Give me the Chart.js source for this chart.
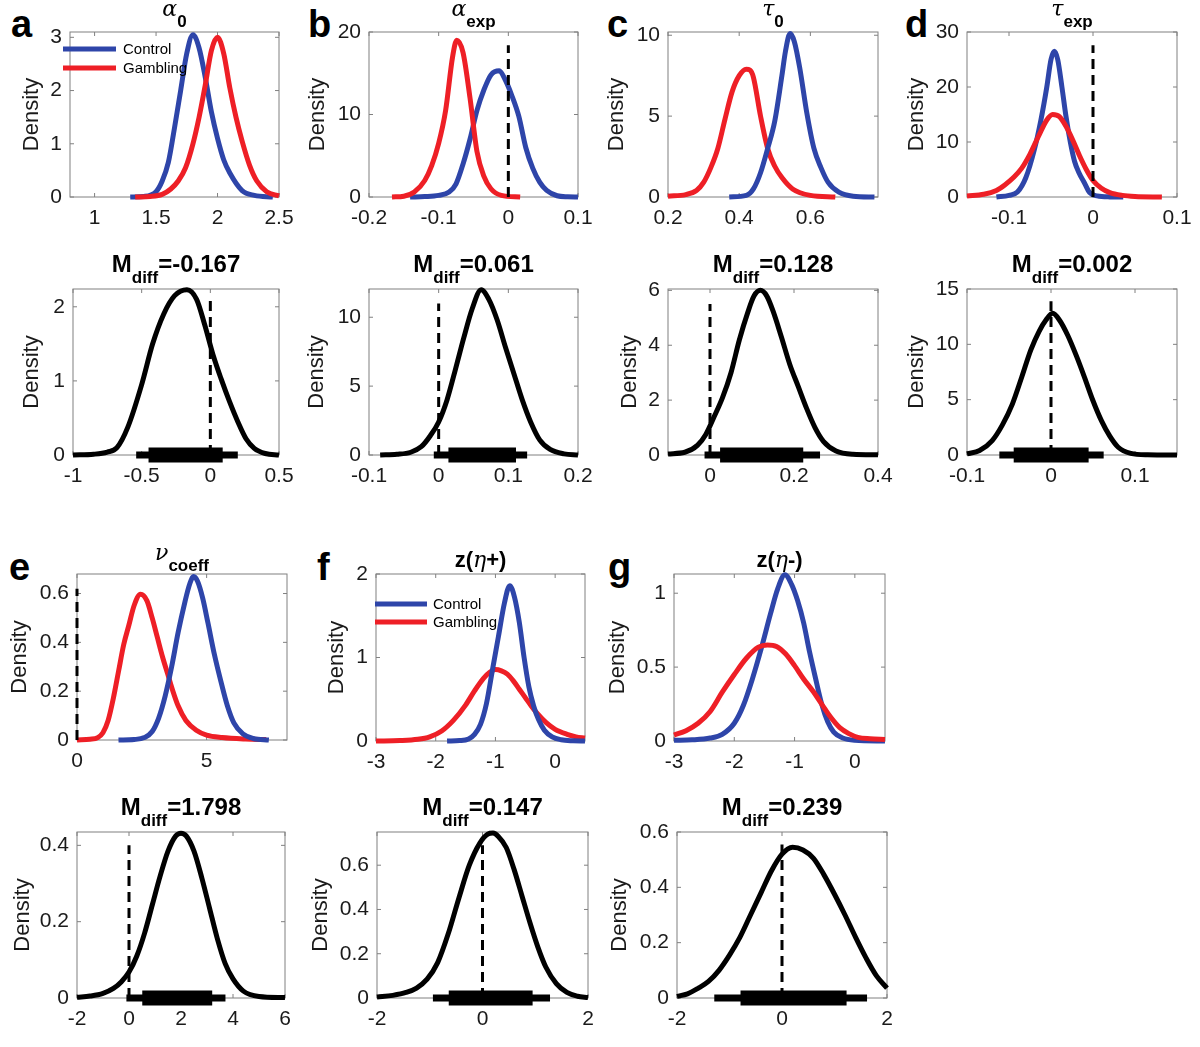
<!DOCTYPE html>
<html>
<head>
<meta charset="utf-8">
<script src="https://cdn.jsdelivr.net/npm/chart.js@4.4.1/dist/chart.umd.min.js"></script>
<style>
  body { margin: 0; background: #fff; width: 1200px; height: 1047px; position: relative; overflow: hidden; }
  canvas { position: absolute; }
  .letter { position: absolute; font: bold 38px "Liberation Sans", Arial, sans-serif; line-height: 1; color: #000; }
</style>
</head>
<body>
<div class="letter" style="left:11px;top:5px">a</div>
<div class="letter" style="left:308px;top:5px">b</div>
<div class="letter" style="left:607px;top:5px">c</div>
<div class="letter" style="left:905px;top:5px">d</div>
<div class="letter" style="left:9px;top:548px">e</div>
<div class="letter" style="left:317px;top:548px">f</div>
<div class="letter" style="left:608px;top:548px">g</div>
<script>
// ---- values ----
// a: alpha_0
const aCtrlX = [1.29, 1.40, 1.50, 1.55, 1.60, 1.65, 1.70, 1.75, 1.80, 1.85, 1.90, 1.95, 2.00, 2.05, 2.10, 2.20, 2.30, 2.45];
const aCtrlY = [0, 0.01, 0.1, 0.3, 0.65, 1.3, 2.0, 2.7, 3.05, 2.8, 2.25, 1.6, 1.1, 0.7, 0.45, 0.12, 0.03, 0];
const aGambX = [1.33, 1.45, 1.55, 1.62, 1.68, 1.74, 1.80, 1.85, 1.90, 1.95, 2.00, 2.05, 2.10, 2.15, 2.20, 2.26, 2.32, 2.40, 2.50];
const aGambY = [0, 0.01, 0.05, 0.15, 0.3, 0.55, 1.0, 1.5, 2.1, 2.75, 3.0, 2.7, 2.05, 1.5, 1.05, 0.6, 0.3, 0.1, 0.02];
const aDiffX = [-1, -0.85, -0.75, -0.68, -0.6, -0.5, -0.42, -0.34, -0.26, -0.17, -0.1, -0.04, 0.02, 0.08, 0.14, 0.2, 0.26, 0.32, 0.4, 0.5];
const aDiffY = [0, 0.01, 0.04, 0.1, 0.38, 0.95, 1.5, 1.9, 2.15, 2.23, 2.1, 1.75, 1.35, 1.02, 0.72, 0.45, 0.22, 0.09, 0.02, 0];
const aHdiOuter = [-0.54, 0.2], aHdiInner = [-0.45, 0.09];

// b: alpha_exp
const bCtrlX = [-0.141, -0.12, -0.1, -0.085, -0.075, -0.065, -0.055, -0.045, -0.035, -0.025, -0.013, -0.005, 0.005, 0.015, 0.025, 0.035, 0.045, 0.055, 0.07, 0.085, 0.1];
const bCtrlY = [0, 0.05, 0.2, 0.6, 1.6, 4.0, 7.0, 10.5, 13.0, 14.8, 15.3, 14.3, 12.3, 9.8, 6.0, 3.5, 1.8, 0.8, 0.15, 0.02, 0];
const bGambX = [-0.167, -0.15, -0.135, -0.12, -0.11, -0.1, -0.09, -0.08, -0.074, -0.065, -0.055, -0.045, -0.035, -0.025, -0.01, 0.017];
const bGambY = [0, 0.1, 0.6, 2.0, 3.8, 6.5, 10.5, 17, 19, 17.5, 12, 5.5, 2.5, 1.0, 0.2, 0];
const bDiffX = [-0.084, -0.06, -0.04, -0.025, -0.012, 0, 0.012, 0.024, 0.036, 0.048, 0.061, 0.072, 0.084, 0.096, 0.108, 0.12, 0.132, 0.145, 0.16, 0.18, 0.2];
const bDiffY = [0, 0.05, 0.2, 0.6, 1.4, 2.4, 4.0, 6.2, 8.5, 10.6, 12, 11.3, 9.8, 7.8, 5.9, 4.0, 2.4, 1.1, 0.4, 0.08, 0];
const bHdiOuter = [-0.007, 0.127], bHdiInner = [0.014, 0.111];

// c: tau_0
const cCtrlX = [0.372, 0.42, 0.44, 0.46, 0.48, 0.5, 0.52, 0.53, 0.543, 0.555, 0.57, 0.59, 0.61, 0.63, 0.65, 0.68, 0.72, 0.78];
const cCtrlY = [0, 0.1, 0.5, 1.5, 3.0, 4.7, 7.5, 9.0, 10.1, 9.6, 8.0, 5.2, 3.0, 1.8, 0.9, 0.3, 0.05, 0];
const cGambX = [0.2, 0.25, 0.28, 0.3, 0.32, 0.34, 0.36, 0.38, 0.40, 0.42, 0.43, 0.44, 0.46, 0.48, 0.50, 0.52, 0.55, 0.6, 0.67];
const cGambY = [0.05, 0.15, 0.4, 0.9, 1.8, 3.0, 4.8, 6.5, 7.5, 7.9, 7.85, 7.4, 5.0, 3.0, 1.9, 1.2, 0.5, 0.1, 0];
const cDiffX = [-0.1, -0.06, -0.03, -0.01, 0.01, 0.03, 0.05, 0.07, 0.09, 0.105, 0.12, 0.135, 0.15, 0.17, 0.19, 0.21, 0.23, 0.25, 0.27, 0.3, 0.34, 0.4];
const cDiffY = [0.04, 0.1, 0.35, 0.75, 1.4, 2.1, 3.0, 4.2, 5.2, 5.8, 6.0, 5.8, 5.25, 4.3, 3.3, 2.5, 1.7, 1.0, 0.5, 0.15, 0.03, 0.01];
const cHdiOuter = [-0.013, 0.262], cHdiInner = [0.024, 0.222];

// d: tau_exp
const dCtrlX = [-0.115, -0.1, -0.09, -0.08, -0.07, -0.062, -0.055, -0.05, -0.046, -0.042, -0.037, -0.032, -0.027, -0.022, -0.017, -0.01, -0.004, 0.005, 0.02, 0.036];
const dCtrlY = [0, 0.3, 0.9, 3.5, 8.5, 14, 20, 25, 26.5, 25, 20, 14.5, 10, 6.5, 4.5, 2.5, 0.8, 0.2, 0.02, 0];
const dGambX = [-0.15, -0.13, -0.115, -0.105, -0.095, -0.085, -0.075, -0.065, -0.055, -0.048, -0.04, -0.032, -0.024, -0.016, -0.008, 0, 0.01, 0.02, 0.035, 0.05, 0.082];
const dGambY = [0.2, 0.5, 1.2, 2.2, 3.5, 5.2, 7.8, 11, 14, 15, 14.6, 12.8, 10.3, 7.5, 5, 3, 1.6, 0.8, 0.3, 0.1, 0];
const dDiffX = [-0.1, -0.085, -0.07, -0.058, -0.046, -0.035, -0.024, -0.014, -0.006, 0.002, 0.01, 0.02, 0.03, 0.04, 0.05, 0.06, 0.07, 0.08, 0.095, 0.115, 0.15];
const dDiffY = [0.1, 0.4, 1.3, 2.7, 4.6, 7.0, 9.5, 11.2, 12.2, 12.8, 12.2, 10.8, 9.0, 7.0, 4.9, 3.1, 1.7, 0.7, 0.15, 0.02, 0];
const dHdiOuter = [-0.0615, 0.0627], dHdiInner = [-0.0444, 0.0448];

// e: nu_coeff
const eCtrlX = [1.6, 2.2, 2.6, 2.9, 3.15, 3.4, 3.65, 3.9, 4.15, 4.35, 4.5, 4.65, 4.85, 5.05, 5.3, 5.55, 5.8, 6.05, 6.4, 6.8, 7.4];
const eCtrlY = [0, 0.002, 0.01, 0.035, 0.09, 0.18, 0.3, 0.44, 0.56, 0.64, 0.67, 0.65, 0.58, 0.48, 0.35, 0.24, 0.14, 0.07, 0.025, 0.006, 0];
const eGambX = [0, 0.5, 0.8, 1.0, 1.2, 1.4, 1.6, 1.8, 2.0, 2.2, 2.45, 2.7, 2.9, 3.1, 3.3, 3.5, 3.7, 3.9, 4.2, 4.6, 5.0, 5.6, 6.5, 7.3];
const eGambY = [0, 0.003, 0.01, 0.03, 0.08, 0.17, 0.28, 0.39, 0.47, 0.55, 0.597, 0.57, 0.5, 0.42, 0.34, 0.27, 0.2, 0.14, 0.08, 0.04, 0.02, 0.01, 0.004, 0.002];
const eDiffX = [-2, -1.5, -1, -0.6, -0.3, 0, 0.3, 0.6, 0.9, 1.2, 1.5, 1.8, 2.0, 2.2, 2.5, 2.8, 3.1, 3.4, 3.7, 4.0, 4.4, 5.0, 6.0];
const eDiffY = [0.002, 0.005, 0.012, 0.025, 0.042, 0.068, 0.11, 0.17, 0.245, 0.32, 0.385, 0.425, 0.432, 0.425, 0.385, 0.315, 0.235, 0.155, 0.09, 0.05, 0.018, 0.004, 0.001];
const eHdiOuter = [-0.1, 3.71], eHdiInner = [0.51, 3.2];

// f: z(eta+)
const fCtrlX = [-1.81, -1.6, -1.45, -1.35, -1.25, -1.15, -1.05, -0.95, -0.85, -0.76, -0.68, -0.6, -0.52, -0.44, -0.36, -0.28, -0.18, -0.05, 0.1, 0.3, 0.5];
const fCtrlY = [0, 0.005, 0.025, 0.08, 0.2, 0.45, 0.85, 1.25, 1.65, 1.86, 1.72, 1.42, 1.0, 0.65, 0.42, 0.26, 0.13, 0.05, 0.015, 0.003, 0];
const fGambX = [-3, -2.6, -2.3, -2.1, -1.9, -1.7, -1.5, -1.35, -1.2, -1.1, -1.0, -0.9, -0.8, -0.7, -0.6, -0.5, -0.4, -0.3, -0.15, 0, 0.2, 0.35, 0.5];
const fGambY = [0, 0.005, 0.02, 0.05, 0.12, 0.25, 0.43, 0.6, 0.75, 0.82, 0.855, 0.84, 0.8, 0.72, 0.62, 0.52, 0.42, 0.33, 0.22, 0.14, 0.08, 0.05, 0.035];
const fDiffX = [-2, -1.7, -1.45, -1.25, -1.05, -0.85, -0.65, -0.45, -0.25, -0.05, 0.1, 0.2, 0.3, 0.45, 0.6, 0.75, 0.9, 1.05, 1.2, 1.4, 1.6, 1.8, 2.0];
const fDiffY = [0.004, 0.012, 0.025, 0.045, 0.085, 0.16, 0.29, 0.45, 0.6, 0.7, 0.74, 0.745, 0.73, 0.68, 0.58, 0.46, 0.34, 0.23, 0.14, 0.065, 0.025, 0.008, 0.002];
const fHdiOuter = [-0.94, 1.28], fHdiInner = [-0.64, 0.95];

// g: z(eta-)
const gCtrlX = [-3, -2.7, -2.4, -2.2, -2.0, -1.85, -1.7, -1.55, -1.4, -1.28, -1.16, -1.05, -0.95, -0.85, -0.75, -0.65, -0.55, -0.45, -0.35, -0.2, 0, 0.5];
const gCtrlY = [0.005, 0.008, 0.02, 0.045, 0.12, 0.24, 0.42, 0.63, 0.86, 1.03, 1.125, 1.06, 0.95, 0.8, 0.6, 0.42, 0.25, 0.13, 0.06, 0.02, 0.005, 0];
const gGambX = [-3, -2.8, -2.6, -2.4, -2.2, -2.0, -1.8, -1.6, -1.45, -1.3, -1.15, -1.0, -0.85, -0.7, -0.55, -0.4, -0.25, -0.1, 0.05, 0.25, 0.5];
const gGambY = [0.04, 0.07, 0.12, 0.2, 0.33, 0.45, 0.56, 0.635, 0.65, 0.64, 0.59, 0.51, 0.42, 0.34, 0.25, 0.16, 0.09, 0.05, 0.025, 0.015, 0.01];
const gDiffX = [-2, -1.8, -1.6, -1.4, -1.2, -1.0, -0.8, -0.6, -0.4, -0.2, 0, 0.2, 0.4, 0.6, 0.8, 1.0, 1.2, 1.4, 1.6, 1.8, 2.0];
const gDiffY = [0.006, 0.015, 0.035, 0.06, 0.1, 0.155, 0.22, 0.3, 0.38, 0.46, 0.52, 0.545, 0.535, 0.505, 0.445, 0.375, 0.3, 0.22, 0.145, 0.08, 0.036];
const gHdiOuter = [-1.29, 1.62], gHdiInner = [-0.79, 1.23];

// axis ranges and tick values
const aTopX = [0.8, 2.5], aTopY = [0, 3.1], aTopXTicks = [1, 1.5, 2, 2.5], aTopYTicks = [0, 1, 2, 3];
const bTopX = [-0.2, 0.1], bTopY = [0, 20], bTopXTicks = [-0.2, -0.1, 0, 0.1], bTopYTicks = [0, 10, 20];
const cTopX = [0.2, 0.79], cTopY = [0, 10.2], cTopXTicks = [0.2, 0.4, 0.6], cTopYTicks = [0, 5, 10];
const dTopX = [-0.15, 0.1], dTopY = [0, 30], dTopXTicks = [-0.1, 0, 0.1], dTopYTicks = [0, 10, 20, 30];
const eTopX = [0, 8.1], eTopY = [0, 0.68], eTopXTicks = [0, 5], eTopYTicks = [0, 0.2, 0.4, 0.6];
const fTopX = [-3, 0.5], fTopY = [0, 2], fTopXTicks = [-3, -2, -1, 0], fTopYTicks = [0, 1, 2];
const gTopX = [-3, 0.5], gTopY = [0, 1.13], gTopXTicks = [-3, -2, -1, 0], gTopYTicks = [0, 0.5, 1];
const aDifX = [-1, 0.5], aDifY = [0, 2.24], aDifXTicks = [-1, -0.5, 0, 0.5], aDifYTicks = [0, 1, 2];
const bDifX = [-0.1, 0.2], bDifY = [0, 12.05], bDifXTicks = [-0.1, 0, 0.1, 0.2], bDifYTicks = [0, 5, 10];
const cDifX = [-0.1, 0.4], cDifY = [0, 6.05], cDifXTicks = [0, 0.2, 0.4], cDifYTicks = [0, 2, 4, 6];
const dDifX = [-0.1, 0.15], dDifY = [0, 15], dDifXTicks = [-0.1, 0, 0.1], dDifYTicks = [0, 5, 10, 15];
const eDifX = [-2, 6], eDifY = [0, 0.435], eDifXTicks = [-2, 0, 2, 4, 6], eDifYTicks = [0, 0.2, 0.4];
const fDifX = [-2, 2], fDifY = [0, 0.75], fDifXTicks = [-2, 0, 2], fDifYTicks = [0, 0.2, 0.4, 0.6];
const gDifX = [-2, 2], gDifY = [0, 0.6], gDifXTicks = [-2, 0, 2], gDifYTicks = [0, 0.2, 0.4, 0.6];

// height of the dashed zero line in each panel
const zeroLineTop = { b: 18.4, d: 27.6, e: 0.62, aD: 2.09, bD: 11, cD: 5.5, dD: 13.9, eD: 0.4, fD: 0.69, gD: 0.555 };
const meanDiff = ['-0.167', '0.061', '0.128', '0.002', '1.798', '0.147', '0.239'];

// ---- drawing ----
const BLUE = '#2e45a9', RED = '#ee1f26';
const FONT = '"Liberation Sans", Arial, Helvetica, sans-serif';
const GREEK = 'italic 22px "DejaVu Serif", serif';
const pts = (xs, ys) => xs.map((x, i) => ({ x: x, y: ys[i] }));

const greekTitle = (g, sub) => [{ t: g, f: GREEK }, { t: sub, f: 'bold 17px ' + FONT, sub: true }];
const diffTitle = m => [{ t: 'M', f: 'bold 24px ' + FONT }, { t: 'diff', f: 'bold 17px ' + FONT, sub: true }, { t: '=' + m, f: 'bold 24px ' + FONT }];
const zTitle = s => [{ t: 'z(', f: 'bold 22px ' + FONT }, { t: 'η', f: GREEK }, { t: s + ')', f: 'bold 22px ' + FONT }];
const legendItems = [['Control', BLUE], ['Gambling', RED]];

// explicit min/max makes Chart.js clip at the axes; let thick strokes spill over like MATLAB does
function curve(xs, ys, color) {
  return { data: pts(xs, ys), borderColor: color, borderWidth: 5, pointRadius: 0, clip: 10, cubicInterpolationMode: 'monotone', borderCapStyle: 'butt', borderJoinStyle: 'round' };
}
function hdi(range, w) {
  return { data: [{ x: range[0], y: 0 }, { x: range[1], y: 0 }], borderColor: '#000', borderWidth: w, pointRadius: 0, clip: 10, borderCapStyle: 'butt' };
}
function zeroLine(top) {
  return { data: [{ x: 0, y: 0 }, { x: 0, y: top }], borderColor: '#000', borderWidth: 3, borderDash: [10, 6], pointRadius: 0, clip: 10, borderCapStyle: 'butt' };
}

const panels = [
  { rect: [70, 32, 279, 197], gap: 38, xr: aTopX, yr: aTopY, xt: aTopXTicks, yt: aTopYTicks, title: greekTitle('α', '0'), tdy: 16,
    lines: [curve(aCtrlX, aCtrlY, BLUE), curve(aGambX, aGambY, RED)], legend: { x0: -7, x1: 46, tx: 53, y0: 17, dy: 19 } },
  { rect: [369, 32, 578, 197], gap: 51, xr: bTopX, yr: bTopY, xt: bTopXTicks, yt: bTopYTicks, title: greekTitle('α', 'exp'), tdy: 16,
    lines: [curve(bCtrlX, bCtrlY, BLUE), curve(bGambX, bGambY, RED), zeroLine(zeroLineTop.b)] },
  { rect: [668, 32, 878, 197], gap: 51, xr: cTopX, yr: cTopY, xt: cTopXTicks, yt: cTopYTicks, title: greekTitle('τ', '0'), tdy: 16,
    lines: [curve(cGambX, cGambY, RED), curve(cCtrlX, cCtrlY, BLUE)] },
  { rect: [967, 32, 1177, 197], gap: 50, xr: dTopX, yr: dTopY, xt: dTopXTicks, yt: dTopYTicks, title: greekTitle('τ', 'exp'), tdy: 16,
    lines: [curve(dCtrlX, dCtrlY, BLUE), curve(dGambX, dGambY, RED), zeroLine(zeroLineTop.d)] },

  { rect: [73, 289, 279, 455], gap: 41, xr: aDifX, yr: aDifY, xt: aDifXTicks, yt: aDifYTicks, title: diffTitle(meanDiff[0]), tdy: 17,
    lines: [curve(aDiffX, aDiffY, '#000'), zeroLine(zeroLineTop.aD), hdi(aHdiOuter, 7), hdi(aHdiInner, 15)] },
  { rect: [369, 289, 578, 455], gap: 52, xr: bDifX, yr: bDifY, xt: bDifXTicks, yt: bDifYTicks, title: diffTitle(meanDiff[1]), tdy: 17,
    lines: [curve(bDiffX, bDiffY, '#000'), zeroLine(zeroLineTop.bD), hdi(bHdiOuter, 7), hdi(bHdiInner, 15)] },
  { rect: [668, 289, 878, 455], gap: 38, xr: cDifX, yr: cDifY, xt: cDifXTicks, yt: cDifYTicks, title: diffTitle(meanDiff[2]), tdy: 17,
    lines: [curve(cDiffX, cDiffY, '#000'), zeroLine(zeroLineTop.cD), hdi(cHdiOuter, 7), hdi(cHdiInner, 15)] },
  { rect: [967, 289, 1177, 455], gap: 50, xr: dDifX, yr: dDifY, xt: dDifXTicks, yt: dDifYTicks, title: diffTitle(meanDiff[3]), tdy: 17,
    lines: [curve(dDiffX, dDiffY, '#000'), zeroLine(zeroLineTop.dD), hdi(dHdiOuter, 7), hdi(dHdiInner, 15)] },

  { rect: [77, 574, 287, 740], gap: 57, xr: eTopX, yr: eTopY, xt: eTopXTicks, yt: eTopYTicks, title: greekTitle('ν', 'coeff'), tdy: 14,
    lines: [curve(eGambX, eGambY, RED), curve(eCtrlX, eCtrlY, BLUE), zeroLine(zeroLineTop.e)] },
  { rect: [376, 574, 585, 741], gap: 39, xr: fTopX, yr: fTopY, xt: fTopXTicks, yt: fTopYTicks, title: zTitle('+'), tdy: 7,
    lines: [curve(fGambX, fGambY, RED), curve(fCtrlX, fCtrlY, BLUE)], legend: { x0: -1, x1: 51, tx: 57, y0: 30, dy: 18 } },
  { rect: [674, 574, 885, 741], gap: 56, xr: gTopX, yr: gTopY, xt: gTopXTicks, yt: gTopYTicks, title: zTitle('-'), tdy: 7,
    lines: [curve(gCtrlX, gCtrlY, BLUE), curve(gGambX, gGambY, RED)] },

  { rect: [77, 832, 285, 998], gap: 54, xr: eDifX, yr: eDifY, xt: eDifXTicks, yt: eDifYTicks, title: diffTitle(meanDiff[4]), tdy: 17,
    lines: [curve(eDiffX, eDiffY, '#000'), zeroLine(zeroLineTop.eD), hdi(eHdiOuter, 7), hdi(eHdiInner, 15)] },
  { rect: [377, 832, 588, 998], gap: 56, xr: fDifX, yr: fDifY, xt: fDifXTicks, yt: fDifYTicks, title: diffTitle(meanDiff[5]), tdy: 17,
    lines: [curve(fDiffX, fDiffY, '#000'), zeroLine(zeroLineTop.fD), hdi(fHdiOuter, 7), hdi(fHdiInner, 15)] },
  { rect: [677, 832, 887, 998], gap: 57, xr: gDifX, yr: gDifY, xt: gDifXTicks, yt: gDifYTicks, title: diffTitle(meanDiff[6]), tdy: 17,
    lines: [curve(gDiffX, gDiffY, '#000'), zeroLine(zeroLineTop.gD), hdi(gHdiOuter, 7), hdi(gHdiInner, 15)] }
];

// box with inward ticks on all four sides, title with subscripts, legend
const matlabAxes = {
  id: 'matlabAxes',
  beforeDatasetsDraw(chart) {
    const { ctx, chartArea: { left, top, right, bottom }, scales: { x, y } } = chart;
    ctx.save();
    ctx.strokeStyle = '#808080';
    ctx.lineWidth = 1;
    ctx.strokeRect(left, top, right - left, bottom - top);
    ctx.beginPath();
    x.ticks.forEach(t => {
      const px = x.getPixelForValue(t.value);
      ctx.moveTo(px, bottom); ctx.lineTo(px, bottom - 4);
      ctx.moveTo(px, top); ctx.lineTo(px, top + 4);
    });
    y.ticks.forEach(t => {
      const py = y.getPixelForValue(t.value);
      ctx.moveTo(left, py); ctx.lineTo(left + 4, py);
      ctx.moveTo(right, py); ctx.lineTo(right - 4, py);
    });
    ctx.stroke();
    ctx.restore();
  },
  afterDraw(chart, args, opts) {
    const { ctx, chartArea: { left, top, right } } = chart;
    ctx.save();
    ctx.fillStyle = '#000';
    ctx.textBaseline = 'alphabetic';
    let w = 0;
    opts.title.forEach(p => { ctx.font = p.f; p.w = ctx.measureText(p.t).width; w += p.w; });
    let xx = (left + right) / 2 - w / 2;
    const base = top - opts.tdy;
    opts.title.forEach(p => { ctx.font = p.f; ctx.fillText(p.t, xx, base + (p.sub ? 11 : 0)); xx += p.w; });
    if (opts.legend) {
      const L = opts.legend;
      ctx.font = '15px ' + FONT;
      ctx.textBaseline = 'middle';
      legendItems.forEach(([name, color], i) => {
        const yy = top + L.y0 + i * L.dy;
        ctx.strokeStyle = color; ctx.lineWidth = 5;
        ctx.beginPath(); ctx.moveTo(left + L.x0, yy); ctx.lineTo(left + L.x1, yy); ctx.stroke();
        ctx.fillText(name, left + L.tx, yy + 1);
      });
    }
    ctx.restore();
  }
};

function makePanel(p) {
  const [l, t, r, b] = p.rect;
  const yW = p.gap + 13, padT = 44, padR = 24, xH = 42;
  const W = yW + (r - l) + padR, H = padT + (b - t) + xH;
  const cv = document.createElement('canvas');
  cv.width = W; cv.height = H;
  cv.style.left = (l - yW) + 'px'; cv.style.top = (t - padT) + 'px';
  cv.style.width = W + 'px'; cv.style.height = H + 'px';
  document.body.appendChild(cv);
  const tickFont = { size: 21, family: FONT };
  new Chart(cv.getContext('2d'), {
    type: 'line',
    data: { datasets: p.lines.slice().reverse() },
    options: {
      responsive: false, animation: false, devicePixelRatio: 1,
      layout: { padding: { top: padT, right: padR, left: 0, bottom: 0 } },
      plugins: { legend: { display: false }, tooltip: { enabled: false },
        matlabAxes: { title: p.title, tdy: p.tdy, legend: p.legend } },
      scales: {
        x: { type: 'linear', min: p.xr[0], max: p.xr[1],
          grid: { display: false, drawTicks: false }, border: { display: false },
          afterBuildTicks: s => { s.ticks = p.xt.map(v => ({ value: v })); },
          afterFit: s => { s.height = xH; },
          ticks: { autoSkip: false, maxRotation: 0, padding: 9, color: '#1a1a1a', font: tickFont, callback: v => String(v) } },
        y: { type: 'linear', min: p.yr[0], max: p.yr[1],
          grid: { display: false, drawTicks: false }, border: { display: false },
          afterBuildTicks: s => { s.ticks = p.yt.map(v => ({ value: v })); },
          afterFit: s => { s.width = yW; },
          title: { display: true, text: 'Density', padding: 0, color: '#1a1a1a', font: { size: 22, family: FONT } },
          ticks: { autoSkip: false, padding: 8, color: '#1a1a1a', font: tickFont, callback: v => String(v) } }
      }
    },
    plugins: [matlabAxes]
  });
}

panels.forEach(makePanel);
</script>
</body>
</html>
